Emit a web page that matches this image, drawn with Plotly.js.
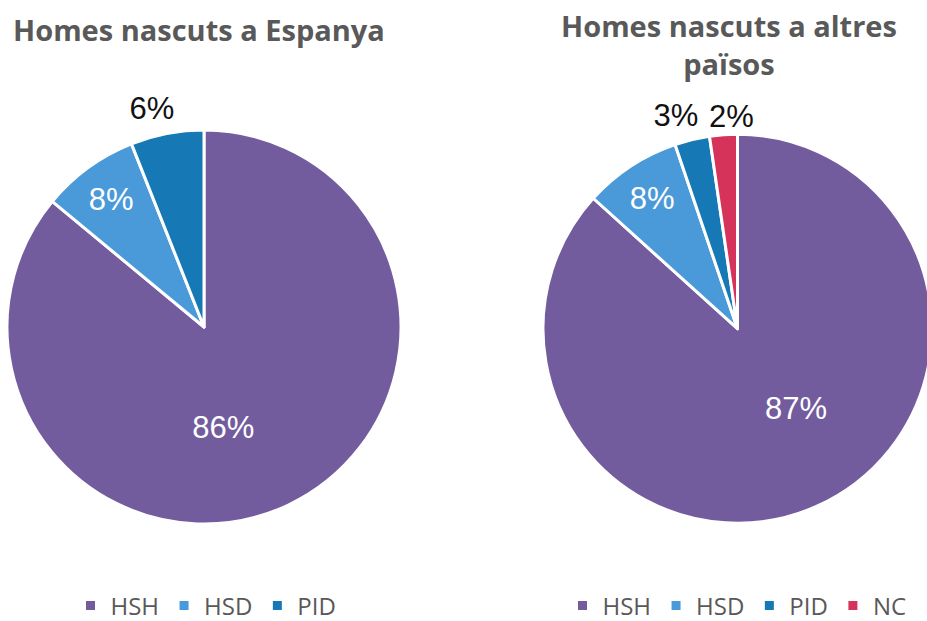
<!DOCTYPE html>
<html>
<head>
<meta charset="utf-8">
<script src="https://cdn.plot.ly/plotly-3.0.1.min.js"></script>
<style>
html,body{margin:0;padding:0;overflow:hidden;background:#fff;width:927px;height:621px;}
#chart{width:1000px;height:621px;}
</style>
</head>
<body>
<div id="chart"></div>
<script>
// Data
const labelsSpain = ["HSH", "HSD", "PID"];
const valuesSpain = [86, 8, 6];
const labelsOther = ["HSH", "HSD", "PID", "NC"];
const valuesOther = [86.7, 8.1, 2.9, 2.3];
const titleSpain = "Homes nascuts a Espanya";
const titleOther = "Homes nascuts a altres<br>països";

const colorMap = {HSH: "#725c9e", HSD: "#4a9ad9", PID: "#1679b5", NC: "#d5335a"};

const W = 1000, H = 621;
const pct = "%{percent:.0%}";
const labelFont = "Liberation Sans, Arial, sans-serif";
const FS = 31;

// pie boxes in pixels: [left, top, size]
const boxSpain = [7, 130, 394];
const boxOther = [543, 134.2, 389];

function domainOf(box, dx, dy) {
  const l = box[0] + (dx || 0), t = box[1] + (dy || 0), s = box[2];
  return {x: [l / W, (l + s) / W], y: [(H - t - s) / H, (H - t) / H]};
}

// main visible pie (slices + legend), optional text per slice
function mainPie(labels, values, box, positions, legendId, group) {
  return {
    type: "pie", labels: labels, values: values, sort: false,
    direction: "clockwise", rotation: 0,
    marker: {colors: labels.map(l => colorMap[l]), line: {color: "#ffffff", width: 3}},
    texttemplate: pct, textposition: positions,
    insidetextorientation: "horizontal",
    insidetextfont: {family: labelFont, size: FS, color: "#ffffff"},
    outsidetextfont: {family: labelFont, size: FS, color: "#111111"},
    domain: domainOf(box), legend: legendId, legendgroup: group, showlegend: true,
    hoverinfo: "label+percent"
  };
}

// transparent copy that only carries the label of one slice, nudged to the reference spot
function labelPie(labels, values, box, idx, where, dx, dy) {
  return {
    type: "pie", labels: labels, values: values, sort: false,
    direction: "clockwise", rotation: 0,
    marker: {colors: labels.map(() => "rgba(0,0,0,0)"), line: {width: 0}},
    texttemplate: pct,
    textposition: labels.map((_, i) => (i === idx ? where : "none")),
    insidetextorientation: "horizontal",
    insidetextfont: {family: labelFont, size: FS, color: "#ffffff"},
    outsidetextfont: {family: labelFont, size: FS, color: "#111111"},
    domain: domainOf(box, dx, dy), showlegend: false, hoverinfo: "skip"
  };
}

const traces = [
  mainPie(labelsSpain, valuesSpain, boxSpain, ["none", "inside", "none"], "legend", "spain"),
  labelPie(labelsSpain, valuesSpain, boxSpain, 0, "inside", -33, 17),
  labelPie(labelsSpain, valuesSpain, boxSpain, 2, "outside", 16, -8),
  mainPie(labelsOther, valuesOther, boxOther, ["none", "inside", "none", "none"], "legend2", "other"),
  labelPie(labelsOther, valuesOther, boxOther, 0, "inside", 19, -9),
  labelPie(labelsOther, valuesOther, boxOther, 2, "outside", 15, -8),
  labelPie(labelsOther, valuesOther, boxOther, 3, "outside", 39, -1)
];

const legendFont = {family: "Open Sans, sans-serif", size: 24, color: "#595959"};
const titleFont = {family: "Open Sans, sans-serif", size: 29, color: "#595959"};

const layout = {
  width: W, height: H,
  margin: {l: 0, r: 0, t: 0, b: 0, autoexpand: false},
  paper_bgcolor: "#ffffff",
  showlegend: true,
  legend: {
    orientation: "h", x: 206 / W, xanchor: "center", y: (H - 606) / H, yanchor: "middle",
    font: legendFont, traceorder: "normal", itemclick: false
  },
  legend2: {
    orientation: "h", x: 737 / W, xanchor: "center", y: (H - 606) / H, yanchor: "middle",
    font: legendFont, traceorder: "normal", itemclick: false
  },
  annotations: [
    {text: "<b>" + titleSpain + "</b>", x: 199 / W, y: (H - 30) / H, xref: "paper", yref: "paper",
     xanchor: "center", yanchor: "middle", showarrow: false, font: titleFont},
    {text: "<b>" + titleOther.replace("<br>", "</b><br><b>") + "</b>", x: 729 / W, y: (H - 45) / H,
     xref: "paper", yref: "paper", xanchor: "center", yanchor: "middle", showarrow: false, font: titleFont}
  ]
};

Plotly.newPlot("chart", traces, layout, {displayModeBar: false, staticPlot: true});
</script>
</body>
</html>
